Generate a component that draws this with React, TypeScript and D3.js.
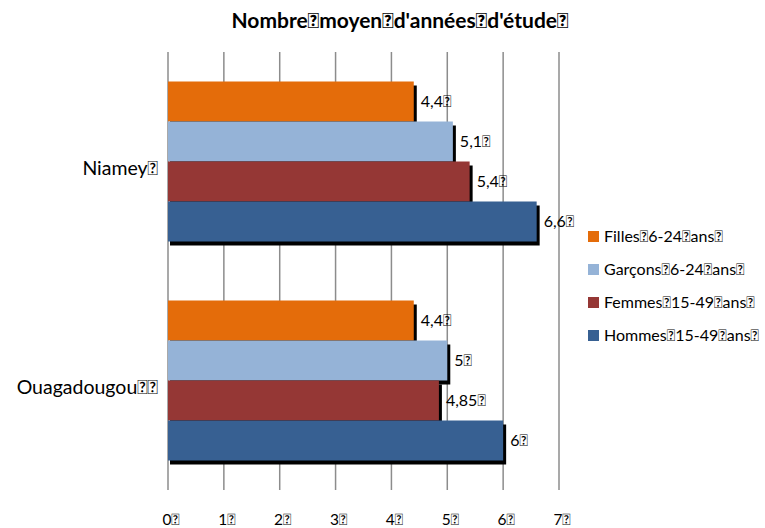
import React from "react";
import * as d3 from "d3";

const T = "\uE000";
const categories = ["Niamey", "Ouagadougou"];
const catLabels = ["Niamey" + T, "Ouagadougou" + T + T];
const seriesNames = ["Filles" + T + "6-24" + T + "ans" + T, "Garçons" + T + "6-24" + T + "ans" + T, "Femmes" + T + "15-49" + T + "ans" + T, "Hommes" + T + "15-49" + T + "ans" + T];
const seriesColors = ["#E46C0A", "#95B3D7", "#953735", "#376092"];
const filles = [4.4, 4.4];
const garcons = [5.1, 5.0];
const femmes = [5.4, 4.85];
const hommes = [6.6, 6.0];
const seriesValues = [filles, garcons, femmes, hommes];
const ticks = [0, 1, 2, 3, 4, 5, 6, 7];
const title = "Nombre" + T + "moyen" + T + "d'années" + T + "d'étude" + T;

const FONT = "Lato, 'Open Sans', sans-serif";

export default function App() {
  const W = 765, H = 528;
  const x = d3.scaleLinear().domain([0, 7]).range([168, 559]);
  const y = d3.scaleBand().domain(categories).range([52, 490]);
  const inner = d3.scaleBand().domain(seriesNames).range([29.5, 189.5]);
  const fmt = (v: number) => String(v).replace(".", ",") + T;
  const bars: any[] = [];
  categories.forEach((c, ci) => {
    seriesNames.forEach((s, si) => {
      bars.push({ c, s, si, v: seriesValues[si][ci], y: (y(c) as number) + (inner(s) as number), h: inner.bandwidth() });
    });
  });
  return (
    <svg width={W} height={H} style={{ position: "absolute", left: 0, top: 0, background: "#fff" }}>
      <text x={400} y={28} textAnchor="middle" fontFamily={FONT} fontWeight="bold" fontSize={21} fill="#000">{title}</text>
      {ticks.slice(1).map((t) => (
        <line key={t} x1={x(t)} x2={x(t)} y1={52} y2={490} stroke="#8c8c8c" strokeWidth={1.5} />
      ))}
      <line x1={x(0)} x2={x(0)} y1={52} y2={490} stroke="#8c8c8c" strokeWidth={1.5} />
      {bars.map((b, i) => (
        <g key={i}>
          <rect x={x(0) + 2} y={b.y + 4} width={x(b.v) - x(0) + 1} height={b.h} fill="#000" />
          <rect x={x(0)} y={b.y} width={x(b.v) - x(0)} height={b.h} fill={seriesColors[b.si]} />
        </g>
      ))}
      {bars.map((b, i) => (
        <text key={"l" + i} x={x(b.v) + 7} y={b.y + b.h / 2 + 5} fontFamily={FONT} fontSize={16} fill="#000">{fmt(b.v)}</text>
      ))}
      {categories.map((c, ci) => (
        <text key={c} x={158} y={(y(c) as number) + y.bandwidth() / 2 + 13} textAnchor="end" fontFamily={FONT} fontSize={19.5} fill="#000">{catLabels[ci]}</text>
      ))}
      {ticks.map((t) => (
        <text key={"t" + t} x={x(t) + 3} y={525} textAnchor="middle" fontFamily={FONT} fontSize={15.5} fill="#000">{String(t) + T}</text>
      ))}
      {seriesNames.map((s, si) => (
        <g key={s}>
          <rect x={588} y={231 + si * 33} width={11} height={11} fill={seriesColors[si]} />
          <text x={604} y={242 + si * 33} fontFamily={FONT} fontSize={16} fill="#000">{s}</text>
        </g>
      ))}
    </svg>
  );
}
